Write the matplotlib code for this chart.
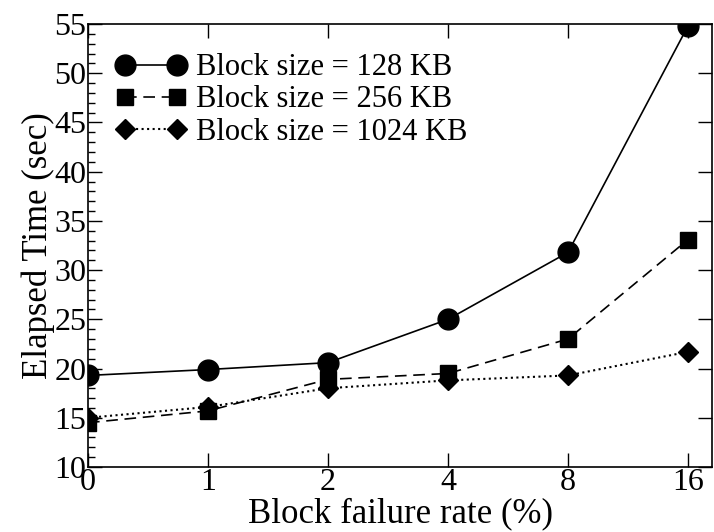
import matplotlib
matplotlib.use("Agg")
import matplotlib.pyplot as plt
from matplotlib.ticker import MultipleLocator

plt.rcParams['font.family'] = ['Liberation Serif', 'DejaVu Serif']

# failure rates (categorical, evenly spaced)
rates = ["0", "1", "2", "4", "8", "16"]
t_128 = [19.3, 19.9, 20.6, 25.0, 31.8, 54.8]
t_256 = [14.5, 15.7, 18.9, 19.5, 23.0, 33.1]
t_1024 = [15.0, 16.1, 18.0, 18.8, 19.3, 21.7]

pos = list(range(len(rates)))

fig = plt.figure(figsize=(7.14, 5.32), dpi=100)
ax = fig.add_axes([88/714, 1 - 467/532, (712 - 88)/714, (467 - 24)/532])

ax.plot(pos, t_128, 'k-', marker='o', markersize=15, lw=1.2,
        label="Block size = 128 KB")
ax.plot(pos, t_256, 'k--', marker='s', markersize=12, lw=1.2,
        dashes=(7, 4), label="Block size = 256 KB")
ax.plot(pos, t_1024, 'k:', marker='D', markersize=10, lw=1.5,
        label="Block size = 1024 KB")

ax.set_xlim(0, 5.2)
ax.set_ylim(10, 55)
ax.set_xticks(pos)
ax.set_xticklabels(rates)
ax.yaxis.set_major_locator(MultipleLocator(5))
ax.yaxis.set_minor_locator(MultipleLocator(1))

ax.tick_params(axis='both', which='major', direction='in', length=10,
               width=1, labelsize=23, pad=1)
ax.tick_params(axis='y', which='major', right=True)
ax.tick_params(axis='x', which='major', top=True)
ax.tick_params(axis='y', which='minor', direction='in', length=5, width=1)

for s in ax.spines.values():
    s.set_linewidth(1.2)

ax.set_xlabel("Block failure rate (%)", fontsize=25, labelpad=0)
ax.set_ylabel("Elapsed Time (sec)", fontsize=25, labelpad=0)

ax.legend(loc='upper left', bbox_to_anchor=(0.016, 0.975), frameon=False,
          fontsize=22, numpoints=2, handlelength=2.3, handletextpad=0.3,
          labelspacing=0.1, borderaxespad=0.2)

fig.savefig("out.png", dpi=100)
